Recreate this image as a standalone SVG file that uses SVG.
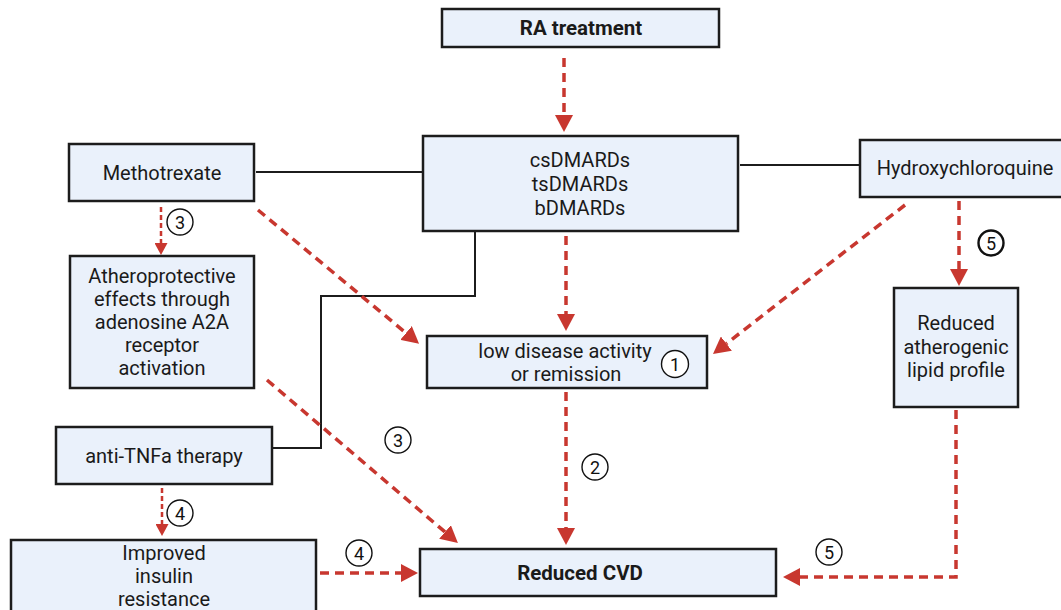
<svg xmlns="http://www.w3.org/2000/svg" width="1061" height="610" viewBox="0 0 1061 610">
<style>
.box{fill:#eaf1fb;stroke:#1c1c1c;stroke-width:2.5}
.t{font-family:Roboto,"Liberation Sans",sans-serif;font-size:20px;fill:#1a1a1a;text-anchor:middle}
.b{font-weight:bold;font-size:20.5px}
.solid{fill:none;stroke:#1c1c1c;stroke-width:2}
.dash{fill:none;stroke:#c8372f;stroke-width:3.5;stroke-dasharray:9 6}
.dthin{fill:none;stroke:#c8372f;stroke-width:2.5;stroke-dasharray:5 3}
.num{fill:#fff;stroke:#111;stroke-width:1.4}
.numb{fill:#fff;stroke:#111;stroke-width:2.4}
.n{font-family:Roboto,"Liberation Sans",sans-serif;font-size:18px;fill:#111;text-anchor:middle}
</style>
<defs>
<marker id="ah" markerUnits="userSpaceOnUse" markerWidth="18" markerHeight="18" refX="0" refY="9" orient="auto"><path d="M0,0 L17,9 L0,18 z" fill="#c8372f"/></marker>
<marker id="ahs" markerUnits="userSpaceOnUse" markerWidth="13" markerHeight="13" refX="0" refY="6.5" orient="auto"><path d="M0,0 L12,6.5 L0,13 z" fill="#c8372f"/></marker>
</defs>
<rect width="1061" height="610" fill="#fff"/>
<g id="connectors">
<path class="solid" d="M256,172 H423"/>
<path class="solid" d="M740,165 H860"/>
<path class="solid" d="M475,232 V296 H321 V448 H272"/>
<path class="dash" d="M564,58 V115" marker-end="url(#ah)"/>
<path class="dash" d="M566,236 V314" marker-end="url(#ah)"/>
<path class="dash" d="M566,392 V528" marker-end="url(#ah)"/>
<path class="dash" d="M258,210 L406,333" marker-end="url(#ah)"/>
<path class="dash" d="M905,205 L726.4,343.6" marker-end="url(#ah)"/>
<path class="dash" d="M267,380 L445,532" marker-end="url(#ah)"/>
<path class="dash" d="M959,201 V269" marker-end="url(#ah)"/>
<path class="dash" d="M956,410 V577 H800" marker-end="url(#ah)"/>
<path class="dash" d="M320,573 H401" marker-end="url(#ah)"/>
<path class="dthin" d="M161,207 V243" marker-end="url(#ahs)"/>
<path class="dthin" d="M162,488 V524" marker-end="url(#ahs)"/>
</g>
<g id="ra"><rect class="box" x="442" y="9" width="277" height="38"/><text class="t b" x="581" y="35">RA treatment</text></g>
<g id="dmards"><rect class="box" x="423" y="136" width="315" height="95"/>
<text class="t" x="580" y="167">csDMARDs</text><text class="t" x="580" y="191">tsDMARDs</text><text class="t" x="580" y="215">bDMARDs</text></g>
<g id="mtx"><rect class="box" x="69" y="144" width="185" height="57"/><text class="t" x="162" y="180">Methotrexate</text></g>
<g id="hcq"><rect class="box" x="860" y="140" width="203" height="57"/><text class="t" x="965" y="175">Hydroxychloroquine</text></g>
<g id="athero"><rect class="box" x="70" y="256" width="184" height="132"/>
<text class="t" x="162" y="283">Atheroprotective</text><text class="t" x="162" y="306">effects through</text><text class="t" x="162" y="329">adenosine A2A</text><text class="t" x="162" y="352">receptor</text><text class="t" x="162" y="375">activation</text></g>
<g id="low"><rect class="box" x="427" y="336" width="280" height="52"/>
<text class="t" x="565" y="358">low disease activity</text><text class="t" x="566" y="381">or remission</text></g>
<g id="lipid"><rect class="box" x="894" y="288" width="124" height="119"/>
<text class="t" x="956" y="330">Reduced</text><text class="t" x="956" y="354">atherogenic</text><text class="t" x="956" y="377">lipid profile</text></g>
<g id="tnf"><rect class="box" x="56" y="427" width="216" height="57"/><text class="t" x="164" y="463">anti-TNFa therapy</text></g>
<g id="insulin"><rect class="box" x="11" y="540" width="305" height="80"/>
<text class="t" x="164" y="560">Improved</text><text class="t" x="164" y="583">insulin</text><text class="t" x="164" y="606">resistance</text></g>
<g id="cvd"><rect class="box" x="420" y="549" width="356" height="47"/><text class="t b" x="580" y="580">Reduced CVD</text></g>
<g id="badges">
<circle class="num" cx="180" cy="222" r="13"/><text class="n" x="180" y="228.5">3</text>
<circle class="num" cx="398" cy="440" r="13"/><text class="n" x="398" y="446.5">3</text>
<circle class="num" cx="675" cy="364" r="13.5"/><text class="n" x="675" y="370.5">1</text>
<circle class="num" cx="595" cy="467" r="13"/><text class="n" x="595" y="473.5">2</text>
<circle class="num" cx="180" cy="513" r="13"/><text class="n" x="180" y="519.5">4</text>
<circle class="num" cx="359" cy="553" r="13"/><text class="n" x="359" y="559.5">4</text>
<circle class="numb" cx="991" cy="243" r="12.5"/><text class="n" x="991" y="249.5">5</text>
<circle class="num" cx="829" cy="552" r="13"/><text class="n" x="829" y="558.5">5</text>
</g>
</svg>
